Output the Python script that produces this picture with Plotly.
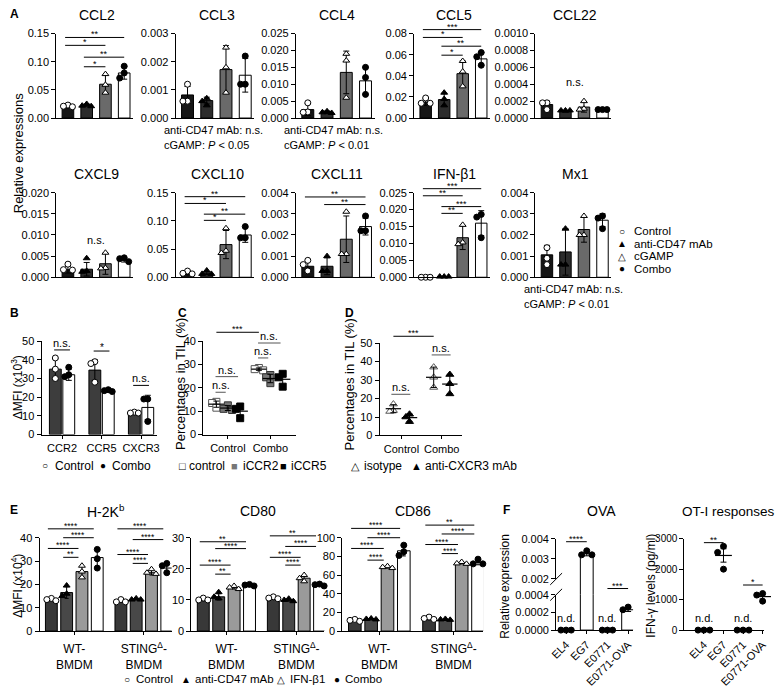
import numpy as np
import plotly.graph_objects as go

W, H = 782, 699
FONT = "Arial, 'Liberation Sans', Helvetica, sans-serif"

# ---------------- Panel A data ----------------
A_groups = ["Control", "anti-CD47 mAb", "cGAMP", "Combo"]
A_genes = ["CCL2", "CCL3", "CCL4", "CCL5", "CCL22",
           "CXCL9", "CXCL10", "CXCL11", "IFN-β1", "Mx1"]
A_ymax = {"CCL2": 0.15, "CCL3": 0.003, "CCL4": 0.025, "CCL5": 0.08, "CCL22": 0.001,
          "CXCL9": 0.02, "CXCL10": 0.15, "CXCL11": 0.004, "IFN-β1": 0.025, "Mx1": 0.004}
A_ystep = {"CCL2": 0.05, "CCL3": 0.001, "CCL4": 0.005, "CCL5": 0.02, "CCL22": 0.0002,
           "CXCL9": 0.005, "CXCL10": 0.05, "CXCL11": 0.001, "IFN-β1": 0.005, "Mx1": 0.001}
A_decimals = {"CCL2": 2, "CCL3": 3, "CCL4": 3, "CCL5": 2, "CCL22": 4,
              "CXCL9": 3, "CXCL10": 2, "CXCL11": 3, "IFN-β1": 3, "Mx1": 3}
A_means = {
    "CCL2": [0.021, 0.023, 0.060, 0.080],
    "CCL3": [0.00082, 0.00062, 0.00172, 0.00152],
    "CCL4": [0.0025, 0.0017, 0.0135, 0.011],
    "CCL5": [0.015, 0.0175, 0.042, 0.056],
    "CCL22": [0.00016, 0.00008, 0.00013, 0.0001],
    "CXCL9": [0.0018, 0.0019, 0.0032, 0.0041],
    "CXCL10": [0.007, 0.007, 0.058, 0.075],
    "CXCL11": [0.00052, 0.00052, 0.0018, 0.0024],
    "IFN-β1": [0.00005, 0.0002, 0.0117, 0.016],
    "Mx1": [0.00106, 0.0012, 0.00226, 0.0027],
}
A_sd = {
    "CCL2": [0.0015, 0.002, 0.016, 0.011],
    "CCL3": [0.0003, 0.00012, 0.00085, 0.0006],
    "CCL4": [0.0018, 0.0004, 0.0063, 0.004],
    "CCL5": [0.003, 0.006, 0.012, 0.006],
    "CCL22": [0.00004, 0.00001, 0.00006, 0.000005],
    "CXCL9": [0.0008, 0.0016, 0.0025, 0.0005],
    "CXCL10": [0.003, 0.002, 0.025, 0.013],
    "CXCL11": [0.00025, 0.0004, 0.0011, 0.0004],
    "IFN-β1": [0.0, 0.0, 0.0035, 0.0037],
    "Mx1": [0.00045, 0.0011, 0.0006, 0.0003],
}
A_points = {
    "CCL2": [[0.023, 0.021, 0.020], [0.025, 0.022, 0.021], [0.078, 0.059, 0.045], [0.092, 0.080, 0.071]],
    "CCL3": [[0.0012, 0.0006, 0.0006], [0.0007, 0.0006, 0.00045], [0.0025, 0.0018, 0.0009], [0.0022, 0.0012, 0.0012]],
    "CCL4": [[0.0045, 0.0018, 0.0017], [0.002, 0.0017, 0.0015], [0.019, 0.017, 0.006], [0.015, 0.012, 0.007]],
    "CCL5": [[0.019, 0.014, 0.014], [0.024, 0.018, 0.012], [0.054, 0.044, 0.030], [0.062, 0.058, 0.050]],
    "CCL22": [[0.00018, 0.00018, 0.0001], [0.00009, 0.00009, 0.00009], [0.0002, 0.00011, 0.0001], [0.0001, 0.0001, 0.0001]],
    "CXCL9": [[0.0031, 0.0018, 0.0017], [0.0045, 0.0015, 0.0013], [0.0058, 0.0022, 0.0021], [0.0046, 0.0044, 0.0037]],
    "CXCL10": [[0.011, 0.007, 0.006], [0.012, 0.006, 0.006], [0.087, 0.047, 0.043], [0.09, 0.07, 0.07]],
    "CXCL11": [[0.0008, 0.0006, 0.0003], [0.001, 0.0003, 0.0003], [0.0031, 0.0011, 0.0011], [0.0029, 0.0022, 0.0022]],
    "IFN-β1": [[0.0, 0.0, 0.0], [0.0002, 0.0002, 0.0002], [0.0155, 0.0103, 0.0098], [0.0186, 0.0178, 0.0117]],
    "Mx1": [[0.0014, 0.0009, 0.0006], [0.0023, 0.0006, 0.0006], [0.0029, 0.002, 0.002], [0.0029, 0.0028, 0.0023]],
}
A_sig = {
    "CCL2": [(0, 3, "**", 0.143), (0, 2, "*", 0.129), (1, 3, "**", 0.108), (1, 2, "*", 0.091)],
    "CCL5": [(0, 3, "***", 0.0837), (0, 2, "*", 0.0763), (1, 3, "**", 0.068), (1, 2, "*", 0.0595)],
    "CXCL10": [(0, 3, "**", 0.143), (0, 2, "*", 0.131), (1, 3, "**", 0.112), (1, 2, "*", 0.101)],
    "CXCL11": [(0, 3, "**", 0.0038), (1, 3, "**", 0.00344)],
    "IFN-β1": [(0, 3, "***", 0.0262), (0, 2, "**", 0.0241), (1, 3, "***", 0.0209), (1, 2, "**", 0.0189)],
}
A_ns = {"CCL22": 0.00052, "CXCL9": 0.0108}
A_notes = {"CCL3": "0.05", "CCL4": "0.01", "Mx1": "0.01"}

# ---------------- Panel B data ----------------
B_receptors = ["CCR2", "CCR5", "CXCR3"]
B_ctrl_mean = [35, 34.5, 11.5]
B_ctrl_sd = [5.5, 5.5, 0.5]
B_ctrl_pts = [[41, 35, 30], [39, 38, 28], [12, 11.5, 11.5]]
B_combo_mean = [32, 23.5, 14.5]
B_combo_sd = [3, 1, 6.5]
B_combo_pts = [[36, 31, 32], [24, 23, 23.5], [19, 19, 7]]
B_sig = [(0, "n.s.", 45.3), (1, "*", 44.7), (2, "n.s.", 26.3)]

# ---------------- Panel C data ----------------
C_groups = ["Control", "Combo"]
C_series = ["control", "iCCR2", "iCCR5"]
C_pts = {"control": [[14, 13.5, 11.5], [28.5, 28, 27.5]],
         "iCCR2": [[12.5, 10.5, 11], [25.5, 24.5, 22]],
         "iCCR5": [[12, 11, 7], [26, 24.5, 20.5]]}
C_sig_ns = [(0, 1, 18.1), (0, 2, 24.8), (1, 1, 32.8), (1, 2, 39.2)]
C_sig_main = 43.8

# ---------------- Panel D data ----------------
D_series = ["isotype", "anti-CXCR3 mAb"]
D_pts = {"isotype": [[17, 13.5, 13], [37, 31.5, 26]],
         "anti-CXCR3 mAb": [[11.5, 10, 7.5], [33, 28, 22.5]]}
D_sig_ns = [(0, 22.3), (1, 43.6)]
D_sig_main = 53.7

# ---------------- Panel E data ----------------
E_groups = ["WT-<br>BMDM", "STING<sup>Δ</sup>-<br>BMDM"]
E_markers = ["H-2K<sup>b</sup>", "CD80", "CD86"]
E_ymax = [40, 30, 100]
E_ystep = [10, 10, 20]
E_means = {
    "H-2K<sup>b</sup>": [[13.5, 16.5, 25.5, 31.5], [12.8, 13.7, 25, 27]],
    "CD80": [[10.2, 11, 14, 14.7], [10.7, 10, 17, 14.8]],
    "CD86": [[11.5, 13, 68.5, 86], [13.5, 12.5, 73, 73.5]],
}
E_sd = {
    "H-2K<sup>b</sup>": [[0.7, 2.5, 2.5, 4], [0.5, 0.3, 1, 2]],
    "CD80": [[0.4, 1, 0.5, 0.3], [0.4, 0.4, 1, 0.3]],
    "CD86": [[1, 0.5, 1, 5.5], [1.2, 0.5, 1, 2.5]],
}
E_points = {
    "H-2K<sup>b</sup>": [[[14, 13.5, 13], [19.5, 16, 15], [28, 25.5, 23], [35, 31, 27]],
                         [[13.5, 12.5, 12.5], [14, 13.5, 13.5], [26.5, 25, 24.5], [29, 28, 25]]],
    "CD80": [[[10.6, 10, 10], [12.5, 11, 10.5], [14.5, 14, 13.5], [15, 14.8, 14.5]],
             [[11, 10.6, 10.4], [10.4, 10, 9.6], [18, 17, 16], [15.1, 14.9, 14.5]]],
    "CD86": [[[12.5, 11.5, 10.5], [13.5, 13, 12.5], [69.5, 68.5, 67.5], [92, 85, 81]],
             [[15, 13.5, 12.5], [13, 12.5, 12], [74, 72.5, 72], [77, 72, 72]]],
}
E_sig = {
    "H-2K<sup>b</sup>": [[(0, 3, "****", 43.8), (1, 3, "****", 40), (0, 2, "****", 35.4), (1, 2, "**", 31.6)],
                         [(0, 3, "****", 43.8), (1, 3, "****", 39.2), (0, 2, "****", 32.8), (1, 2, "****", 29)]],
    "CD80": [[(0, 3, "**", 28.7), (1, 3, "****", 26.5), (0, 2, "****", 21.2), (1, 2, "**", 18.3)],
             [(0, 3, "**", 30.6), (1, 3, "****", 27.2), (0, 2, "****", 23.7), (1, 2, "****", 21.2)]],
    "CD86": [[(0, 3, "****", 110), (1, 3, "****", 100), (0, 2, "****", 88.5), (1, 2, "****", 76)],
             [(0, 3, "**", 113.5), (1, 3, "****", 104), (0, 2, "****", 92.7), (1, 2, "****", 83)]],
}

# ---------------- Panel F data ----------------
F_lines = ["EL4", "EG7", "E0771", "E0771-OVA"]
OVA_means = [0.0, 0.00325, 0.0, 0.00023]
OVA_sd = [0.0, 0.0001, 0.0, 0.00002]
OVA_pts = [[0, 0, 0], [0.0034, 0.0032, 0.0032], [0, 0, 0], [0.00026, 0.00023, 0.00022]]
OVA_nd = [0, 2]
OTI_means = [0, 2450, 0, 1100]
OTI_sem = [0, 220, 0, 80]
OTI_pts = [[0, 0, 0], [2750, 2550, 2000], [0, 0, 0], [1200, 1150, 950]]
OTI_sig = [(0, 1, "**", 2870), (2, 3, "*", 1480)]
OTI_nd = [0, 2]

# =============== helpers ===============
layout = dict(width=W, height=H, margin=dict(l=0, r=0, t=0, b=0), paper_bgcolor="white",
              plot_bgcolor="white", showlegend=False, barmode="overlay",
              font=dict(family=FONT, size=11, color="black"))
annotations, shapes, traces, axes = [], [], [], []


def make_axes(xpx, ypx, xr, yr, ytickvals, yticktext, xtickvals=None, xticktext=None,
              xticks="", xtickangle=0, xfont=11, yfont=11, xline=True, xstandoff=None):
    n = len(axes) + 1
    suf = "" if n == 1 else str(n)
    xid, yid = "x" + suf, "y" + suf
    xa = dict(domain=[xpx[0] / W, xpx[1] / W], range=xr, anchor=yid, showline=xline,
              linecolor="black", linewidth=1, showgrid=False, zeroline=False, ticks=xticks,
              ticklen=3, tickcolor="black", fixedrange=True)
    if xtickvals is not None:
        xa.update(tickmode="array", tickvals=xtickvals, ticktext=xticktext, showticklabels=True,
                  tickangle=xtickangle, tickfont=dict(size=xfont))
        if xstandoff is not None:
            xa.update(ticklabelstandoff=xstandoff)
    else:
        xa.update(showticklabels=False)
    ya = dict(domain=[1 - ypx[1] / H, 1 - ypx[0] / H], range=yr, anchor=xid, showline=True,
              linecolor="black", linewidth=1, showgrid=False, zeroline=False, ticks="outside",
              ticklen=4, tickcolor="black", tickfont=dict(size=yfont), tickmode="array",
              tickvals=ytickvals, ticktext=yticktext, fixedrange=True)
    layout["xaxis" + suf] = xa
    layout["yaxis" + suf] = ya
    ax = dict(x=xid, y=yid, xpx=xpx, ypx=ypx, xr=xr, yr=yr)
    axes.append(ax)
    return ax


def ypaper(ax, v):
    b = 1 - ax["ypx"][1] / H
    t = 1 - ax["ypx"][0] / H
    return b + (v - ax["yr"][0]) / (ax["yr"][1] - ax["yr"][0]) * (t - b)


def ticks(top, step, dec, start=0.0):
    n = int(round((top - start) / step))
    vals = [round(start + k * step, 10) for k in range(n + 1)]
    return vals, [f"{v:.{dec}f}" for v in vals]


def swarm(vals, span, step, thr=0.07):
    order = sorted(range(len(vals)), key=lambda i: -vals[i])
    offs = [0.0] * len(vals)
    placed = []
    cands = [0, -step, step, -2 * step, 2 * step]
    c = 0
    for i in order:
        for c in cands:
            if all(abs(vals[i] - vals[j]) >= thr * span or abs(c - offs[j]) >= step * 0.99 for j in placed):
                break
        offs[i] = c
        placed.append(i)
    return offs


def add_bar(ax, x, y, color, width, err=None, errw=3):
    traces.append(go.Bar(x=[x], y=[y], width=[width],
                         marker=dict(color=color, line=dict(color="black", width=1)),
                         error_y=dict(type="data", array=[err if err else 0], color="black",
                                      thickness=1, width=errw, visible=bool(err)),
                         xaxis=ax["x"], yaxis=ax["y"], hoverinfo="skip"))


def add_points(ax, xc, vals, sym, fill, lc, size, step, thr=0.07):
    span = ax["yr"][1] - ax["yr"][0]
    offs = swarm(vals, span, step, thr)
    traces.append(go.Scatter(x=[xc + o for o in offs], y=vals, mode="markers",
                             marker=dict(symbol=sym, color=fill, size=size, line=dict(color=lc, width=1)),
                             cliponaxis=False, xaxis=ax["x"], yaxis=ax["y"], hoverinfo="skip"))


def add_mean(ax, xc, m, e, size=12):
    traces.append(go.Scatter(x=[xc], y=[m], mode="markers",
                             marker=dict(symbol="line-ew", size=size, color="black",
                                         line=dict(color="black", width=1.2)),
                             error_y=dict(type="data", array=[e], color="black", thickness=1, width=3),
                             cliponaxis=False, xaxis=ax["x"], yaxis=ax["y"], hoverinfo="skip"))


def sig(ax, x1, x2, v, text, fs=9, yshift=None, color="black"):
    yp = ypaper(ax, v)
    shapes.append(dict(type="line", xref=ax["x"], yref="paper", x0=x1, x1=x2, y0=yp, y1=yp,
                       line=dict(color=color, width=1)))
    if yshift is None:
        yshift = -4 if text.startswith("*") else -1
    annotations.append(dict(xref=ax["x"], yref="paper", x=(x1 + x2) / 2, y=yp, text=text,
                            showarrow=False, yanchor="bottom", yshift=yshift, font=dict(size=fs)))


def ann(xpx, ypx, text, size=11, xanchor="center", yanchor="middle", angle=0, **kw):
    annotations.append(dict(xref="paper", yref="paper", x=xpx / W, y=1 - ypx / H, text=text,
                            showarrow=False, xanchor=xanchor, yanchor=yanchor, textangle=angle,
                            font=dict(size=size, **kw)))


# =============== Panel A ===============
A_colors = ["#161616", "#2c2c2c", "#6a6a6a", "white"]
A_marks = [("circle", "white"), ("triangle-up", "black"), ("triangle-up", "white"), ("circle", "black")]
A_xcols = [(50, 128), (171, 251), (293, 373), (413, 490), (536, 613)]
A_rows = [(28, 114), (190, 276)]
A_title_y = [9, 171]
for gi, gene in enumerate(A_genes):
    r, c = divmod(gi, 5)
    tv, tt = ticks(A_ymax[gene], A_ystep[gene], A_decimals[gene])
    ax = make_axes(A_xcols[c], A_rows[r], [-0.62, 3.48], [0, A_ymax[gene]], tv, tt)
    ann((A_xcols[c][0] + A_xcols[c][1]) / 2 + 2, A_title_y[r], gene, size=14)
    for k in range(4):
        add_bar(ax, k, A_means[gene][k], A_colors[k], 0.62, A_sd[gene][k])
    for k in range(4):
        sym, fill = A_marks[k]
        add_points(ax, k, A_points[gene][k], sym, fill, "black", 6, 0.24)
    for (i, j, t, v) in A_sig.get(gene, []):
        sig(ax, i - 0.15, j, v, t, fs=9)
    if gene in A_ns:
        annotations.append(dict(xref=ax["x"], yref="paper", x=1.5, y=ypaper(ax, A_ns[gene]),
                                text="n.s.", showarrow=False, font=dict(size=11)))
    if gene in A_notes:
        x0 = A_xcols[c][0] - 14
        y0 = A_rows[r][1] + 12
        ann(x0, y0, "anti-CD47 mAb: n.s.", 11, xanchor="left")
        ann(x0, y0 + 15, "cGAMP: <i>P</i> &lt; " + A_notes[gene], 11, xanchor="left")

ann(12, 150, "Relative expressions", 13, angle=-90)
A_leg_sym = ["○", "▲", "△", "●"]
for k, (s, name) in enumerate(zip(A_leg_sym, A_groups)):
    yy = 229 + k * 12.8
    ann(624, yy, s, 10)
    ann(634, yy, name, 11.5, xanchor="left", yanchor="middle")

# =============== Panel B ===============
tv, tt = ticks(50, 10, 0)
axB = make_axes((35, 152), (341, 436), [-0.52, 2.4], [0, 50], tv, tt,
                xtickvals=[0, 1, 2], xticktext=B_receptors, xticks="outside")
for g in range(3):
    add_bar(axB, g - 0.17, B_ctrl_mean[g], "#3d3d3d", 0.3, B_ctrl_sd[g])
    add_bar(axB, g + 0.17, B_combo_mean[g], "white", 0.3, B_combo_sd[g])
for g in range(3):
    add_points(axB, g - 0.17, B_ctrl_pts[g], "circle", "white", "black", 6, 0.1)
    add_points(axB, g + 0.17, B_combo_pts[g], "circle", "black", "black", 6, 0.1)
for g, t, v in B_sig:
    sig(axB, g - 0.2, g + 0.2, v, t, fs=11 if t == "n.s." else 10)
ann(10, 388, "ΔMFI (x10<sup>3</sup>)", 12, angle=-90)
ann(39, 468, "○", 10)
ann(47, 468, "Control", 12, xanchor="left")
ann(97, 468, "●", 10)
ann(104, 468, "Combo", 12, xanchor="left")

# =============== Panel C ===============
tv, tt = ticks(40, 10, 0)
axC = make_axes((199, 293), (341, 436), [-0.58, 1.6], [0, 40], tv, tt,
                xtickvals=[0, 1], xticktext=C_groups, xticks="outside")
C_off = {"control": -0.27, "iCCR2": 0.0, "iCCR5": 0.29}
C_style = {"control": ("square", "white", "#555555"), "iCCR2": ("square", "#777777", "#333333"),
           "iCCR5": ("square", "black", "black")}
for s in C_series:
    for g in range(2):
        vals = C_pts[s][g]
        sym, fill, lc = C_style[s]
        add_points(axC, g + C_off[s], vals, sym, fill, lc, 7, 0.1, 0.06)
        add_mean(axC, g + C_off[s], float(np.mean(vals)), float(np.std(vals, ddof=1)), 11)
sig(axC, -0.27, 1 - 0.27, C_sig_main, "***", fs=9)
for g, k, v in C_sig_ns:
    sig(axC, g - 0.29, g + C_off[C_series[k]] - 0.05, v, "n.s.", fs=11, color="#555555")
ann(176, 385, "Percentages in TIL (%)", 13, angle=-90)
ann(178, 468, "□", 11)
ann(183, 468, "control", 12, xanchor="left")
ann(231, 468, "■", 11, color="#777777")
ann(237, 468, "iCCR2", 12, xanchor="left")
ann(280, 468, "■", 11)
ann(286, 468, "iCCR5", 12, xanchor="left")

# =============== Panel D ===============
tv, tt = ticks(50, 10, 0)
axD = make_axes((378, 461), (343, 437), [-0.54, 1.49], [0, 50], tv, tt,
                xtickvals=[0, 1], xticktext=C_groups, xticks="outside")
D_off = {"isotype": -0.2, "anti-CXCR3 mAb": 0.2}
D_style = {"isotype": ("triangle-up", "white", "#555555"), "anti-CXCR3 mAb": ("triangle-up", "black", "black")}
for s in D_series:
    for g in range(2):
        vals = D_pts[s][g]
        sym, fill, lc = D_style[s]
        add_points(axD, g + D_off[s], vals, sym, fill, lc, 7, 0.09, 0.06)
        add_mean(axD, g + D_off[s], float(np.mean(vals)), float(np.std(vals, ddof=1)), 11)
sig(axD, -0.2, 1 - 0.2, D_sig_main, "***", fs=9)
for g, v in D_sig_ns:
    sig(axD, g - 0.25, g + 0.22, v, "n.s.", fs=11, color="#555555")
ann(347, 385, "Percentages in TIL (%)", 13, angle=-90)
ann(353, 468, "△", 11)
ann(360, 468, "isotype", 12, xanchor="left")
ann(415, 468, "▲", 11)
ann(422, 468, "anti-CXCR3 mAb", 12, xanchor="left")

# =============== Panel E ===============
E_colors = ["#383838", "#484848", "#9a9a9a", "white"]
E_marks = [("circle", "white"), ("triangle-up", "black"), ("triangle-up", "white"), ("circle", "black")]
E_xcols = [(33, 167), (187, 322), (340, 483)]
E_off = [-0.33, -0.11, 0.11, 0.33]
for mi, mk in enumerate(E_markers):
    tv, tt = ticks(E_ymax[mi], E_ystep[mi], 0)
    ax = make_axes(E_xcols[mi], (541, 636), [-0.5, 1.4], [0, E_ymax[mi]], tv, tt,
                   xtickvals=[0, 1], xticktext=E_groups, xticks="outside", xfont=12, xstandoff=4)
    ann((E_xcols[mi][0] + E_xcols[mi][1]) / 2, 514, mk, 14)
    for g in range(2):
        for k in range(4):
            add_bar(ax, g + E_off[k], E_means[mk][g][k], E_colors[k], 0.17, E_sd[mk][g][k], errw=2)
        for k in range(4):
            sym, fill = E_marks[k]
            add_points(ax, g + E_off[k], E_points[mk][g][k], sym, fill, "black", 6, 0.065, 0.06)
        for (i, j, t, v) in E_sig[mk][g]:
            sig(ax, g + E_off[i] - 0.05, g + E_off[j] - 0.05, v, t, fs=8.5)
ann(10, 590, "ΔMFI (x10<sup>4</sup>)", 12, angle=-90)
for sx, tx, s, name in [(122, 129, "○", "Control"), (182, 189, "▲", "anti-CD47 mAb"),
                        (278, 285, "△", "IFN-β1"), (335, 341, "●", "Combo")]:
    ann(sx, 685, s, 10)
    ann(tx, 685, name, 11.5, xanchor="left")

# =============== Panel F: OVA (broken axis) ===============
OVA_xr = [-0.48, 3.24]
axO_lo = make_axes((557, 635), (599, 635), OVA_xr, [0, 0.0004],
                   [0, 0.0002, 0.0004], ["0.0000", "0.0002", "0.0004"],
                   xtickvals=[0, 1, 2, 3], xticktext=F_lines, xticks="outside", xtickangle=-45)
axO_hi = make_axes((557, 635), (542, 583), OVA_xr, [0.002, 0.004],
                   [0.002, 0.003, 0.004], ["0.002", "0.003", "0.004"], xline=False)
for k in range(4):
    add_bar(axO_lo, k, OVA_means[k], "white", 0.62, None)
    if OVA_means[k] >= 0.002:
        add_bar(axO_hi, k, OVA_means[k], "white", 0.62, OVA_sd[k])
        add_points(axO_hi, k, OVA_pts[k], "circle", "black", "black", 6, 0.25, 0.1)
        # bar continues through the axis break
        for xe in (k - 0.31, k + 0.31):
            shapes.append(dict(type="line", xref=axO_lo["x"], yref="paper", x0=xe, x1=xe,
                               y0=ypaper(axO_lo, 0.0004), y1=ypaper(axO_hi, 0.002),
                               line=dict(color="black", width=1)))
    else:
        if OVA_means[k] > 0:
            traces[-1].update(error_y=dict(type="data", array=[OVA_sd[k]], color="black",
                                           thickness=1, width=3, visible=True))
        add_points(axO_lo, k, OVA_pts[k], "circle", "black", "black", 6, 0.25, 0.1)
sig(axO_hi, 0, 1, 0.00385, "****", fs=9)
sig(axO_lo, 2, 3, 0.00047, "***", fs=9)
for k in OVA_nd:
    annotations.append(dict(xref=axO_lo["x"], yref="paper", x=k, y=ypaper(axO_lo, 0), text="n.d.",
                            showarrow=False, yanchor="bottom", yshift=4, font=dict(size=11)))
for yb in (583, 599):
    shapes.append(dict(type="line", xref="paper", yref="paper", x0=551 / W, x1=563 / W,
                       y0=1 - (yb + 6) / H, y1=1 - (yb - 6) / H, line=dict(color="black", width=1)))
ann(603, 514, "OVA", 14)
ann(505, 590, "Relative expression", 12, angle=-90)

# =============== Panel F: OT-I ===============
tv, tt = ticks(3000, 1000, 0)
axT = make_axes((687, 768), (542, 635), [-1.0, 3.08], [0, 3000], tv, tt,
                xtickvals=[0, 1, 2, 3], xticktext=F_lines, xticks="outside", xtickangle=-45, yfont=10)
for k in range(4):
    add_points(axT, k, OTI_pts[k], "circle", "black", "black", 6, 0.3, 0.07)
    if OTI_means[k] > 0:
        add_mean(axT, k, OTI_means[k], OTI_sem[k], 12)
for (i, j, t, v) in OTI_sig:
    sig(axT, i, j, v, t, fs=9)
for k in OTI_nd:
    annotations.append(dict(xref=axT["x"], yref="paper", x=k, y=ypaper(axT, 0), text="n.d.",
                            showarrow=False, yanchor="bottom", yshift=4, font=dict(size=11)))
ann(781, 514, "OT-I responses", 13.5, xanchor="right")
ann(653, 590, "IFN-γ levels (pg/ml)", 12, angle=-90)

# =============== Panel letters ===============
for letter, x, y in [("A", 1, 8), ("B", 1, 312), ("C", 171, 312), ("D", 341, 312),
                     ("E", 1, 513), ("F", 501, 513)]:
    ann(x, y, "<b>" + letter + "</b>", 12, xanchor="left")

layout["annotations"] = annotations
layout["shapes"] = shapes
fig = go.Figure(data=traces)
fig.update_layout(**layout)
fig.write_html("out.html", config={"displayModeBar": False},
               post_script="document.body.style.margin='0';document.body.style.padding='0';")
